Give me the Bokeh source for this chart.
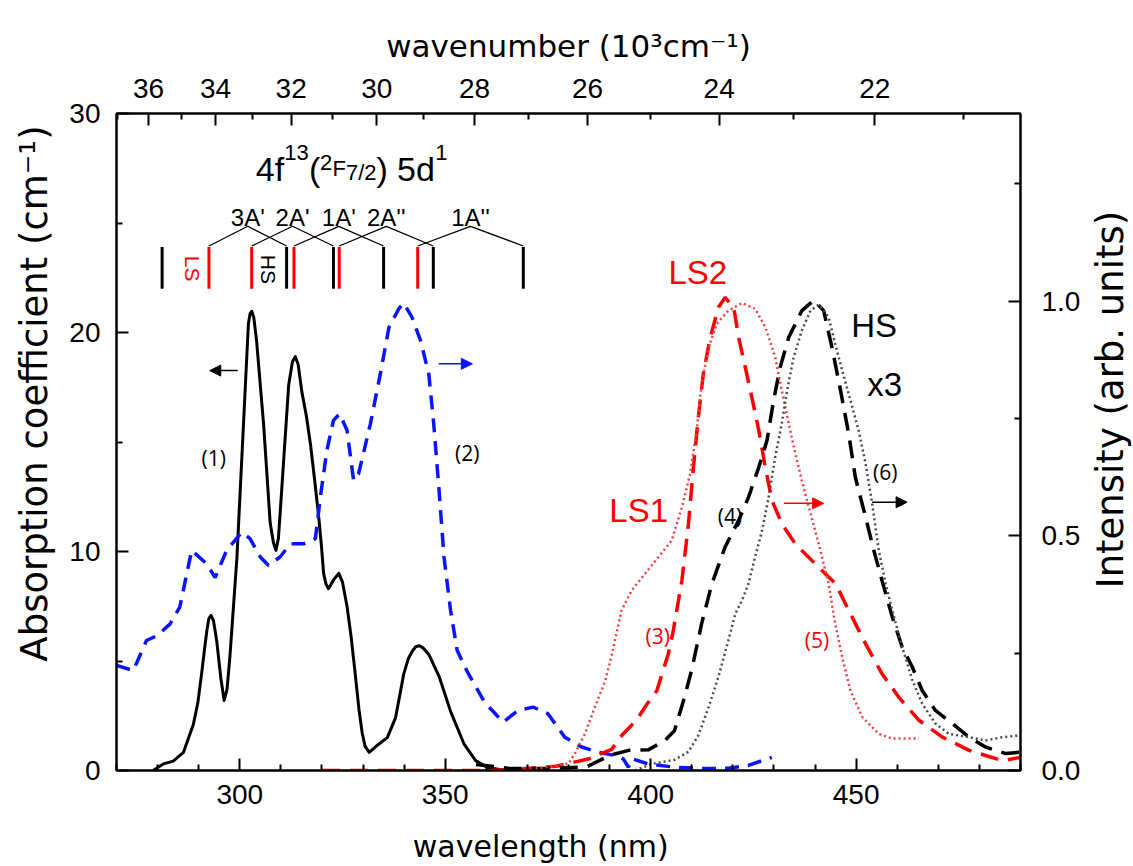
import math
from bokeh.plotting import figure
from bokeh.layouts import row, column
from bokeh.models import (Range1d, LinearAxis, FixedTicker, CustomJSTickFormatter,
                          PrintfTickFormatter, Label, Arrow, NormalHead)
from bokeh.embed import file_html
from bokeh.resources import INLINE

# ---------------- data ----------------
# (1) absorption coefficient (left axis, cm^-1)
abs_wl = [278.9, 281.4, 283.8, 286.3, 288.7, 289.8, 290.7, 291.4, 292.0, 292.5, 293.0, 293.6, 294.4,
          295.4, 296.2, 296.9, 297.6, 299.3, 300.9, 302.1, 302.5, 302.9, 303.4, 304.1, 305.8, 307.4,
          308.2, 308.8, 309.4, 310.2, 311.9, 312.8, 313.5, 314.2, 315.1, 316.2, 317.2, 318.2, 319.2,
          319.9, 320.4, 321.0, 321.6, 322.8, 324.1, 325.0, 326.1, 327.1, 328.1, 329.0, 329.8, 330.5,
          331.5, 333.8, 335.9, 337.9, 339.9, 341.0, 342.0, 342.8, 343.7, 344.6, 346.0, 348.5, 351.3,
          354.6, 357.4, 360.2, 363.5, 367.6]
abs_val = [0.0, 0.3, 0.43, 0.83, 2.1, 3.1, 4.4, 5.5, 6.4, 6.95, 7.08, 6.85, 5.9,
           4.2, 3.2, 3.7, 5.2, 9.7, 15.8, 20.4, 20.85, 20.97, 20.7, 19.6, 15.8, 11.3,
           10.4, 10.05, 10.6, 12.8, 17.6, 18.65, 18.9, 18.55, 17.3, 16.2, 14.9, 13.3, 11.6,
           10.2, 9.0, 8.5, 8.3, 8.7, 9.0, 8.6, 7.5, 6.1, 4.4, 2.8, 1.7, 1.1,
           0.83, 1.2, 1.5, 2.4, 4.4, 5.1, 5.45, 5.65, 5.7, 5.6, 5.3, 4.3, 2.7,
           1.2, 0.45, 0.15, 0.03, 0.0]

# (2) blue dashed emission (right axis)
pl_wl = [270.0, 274.1, 277.3, 279.8, 283.0, 285.4, 288.3, 292.0, 294.0, 296.8, 300.5, 302.5, 305.0,
         307.0, 309.8, 312.3, 315.5, 318.4, 319.6, 321.2, 322.8, 324.3, 326.1, 327.7, 328.9, 331.8,
         334.2, 336.3, 338.7, 339.9, 341.9, 344.0, 346.0, 347.2, 348.5, 349.7, 351.3, 352.9, 355.4,
         359.6, 364.1, 367.7, 371.4, 375.0, 379.1, 383.2, 387.2, 391.3, 393.3, 394.6, 395.4, 399.4,
         405.9, 413.2, 418.9, 423.8, 429.5]
pl_val = [0.224, 0.213, 0.277, 0.287, 0.312, 0.348, 0.469, 0.44, 0.411, 0.469, 0.508, 0.494, 0.455,
          0.437, 0.455, 0.483, 0.483, 0.494, 0.582, 0.682, 0.746, 0.76, 0.725, 0.618, 0.632, 0.739,
          0.845, 0.944, 0.984, 0.996, 0.966, 0.916, 0.845, 0.739, 0.597, 0.455, 0.341, 0.256, 0.21,
          0.145, 0.103, 0.128, 0.135, 0.121, 0.071, 0.05, 0.039, 0.032, 0.025, 0.007, 0.025, 0.014,
          0.007, 0.004, 0.005, 0.011, 0.028]

# (3) LS2 red dashed (right axis)
ls2_wl = [320.0, 335.0, 350.0, 361.0, 369.0, 377.0, 385.0, 390.5, 393.0, 396.5, 399.0, 401.5, 404.3,
          405.5, 407.6, 409.2, 410.4, 411.6, 412.8, 414.5, 416.5, 418.1, 420.2, 421.4, 423.0, 424.6,
          426.3, 427.9, 429.5, 431.9, 435.2, 440.1, 445.0, 448.2, 452.3, 456.3, 460.4, 465.3, 471.0,
          477.5, 481.5, 485.6, 490.0]
ls2_val = [0.0, 0.0, 0.0, 0.0, 0.004, 0.009, 0.025, 0.045, 0.075, 0.107, 0.14, 0.17, 0.249,
           0.298, 0.405, 0.526, 0.646, 0.753, 0.845, 0.923, 0.987, 1.008, 0.987, 0.923, 0.86, 0.796,
           0.725, 0.646, 0.576, 0.526, 0.483, 0.44, 0.398, 0.341, 0.27, 0.206, 0.156, 0.107, 0.071,
           0.043, 0.032, 0.021, 0.028]

# (5) LS1 red dotted (right axis)
ls1_wl = [372.0, 379.9, 381.5, 384.0, 386.4, 388.9, 390.5, 392.9, 395.4, 398.6, 401.9, 405.1, 407.6,
          409.6, 411.2, 412.4, 414.1, 416.1, 418.9, 422.2, 425.4, 427.9, 430.3, 431.9, 433.6, 435.2,
          436.8, 438.5, 440.9, 443.3, 444.9, 446.6, 448.6, 451.5, 455.5, 458.8, 465.3]
ls1_val = [0.004, 0.014, 0.035, 0.078, 0.135, 0.19, 0.245, 0.341, 0.384, 0.419, 0.455, 0.49, 0.561,
           0.632, 0.724, 0.824, 0.902, 0.952, 0.98, 0.996, 0.984, 0.945, 0.881, 0.81, 0.739, 0.675,
           0.618, 0.561, 0.483, 0.398, 0.313, 0.242, 0.17, 0.114, 0.078, 0.068, 0.068]

# (4) HS black dashed (right axis)
hs4_wl = [357.5, 366.0, 374.0, 384.5, 390.0, 394.6, 399.4, 403.5, 405.8, 408.0, 410.0, 412.4, 414.9,
          418.1, 421.4, 423.8, 426.3, 428.3, 429.9, 431.5, 433.6, 436.8, 439.7, 442.1, 444.1, 446.2,
          448.2, 449.8, 452.3, 454.3, 456.3, 458.8, 461.2, 463.7, 466.1, 469.3, 473.4, 477.5, 481.5,
          486.4, 490.0]
hs4_val = [0.013, 0.004, 0.004, 0.008, 0.032, 0.043, 0.044, 0.064, 0.085, 0.149, 0.215, 0.313, 0.398,
           0.476, 0.533, 0.582, 0.646, 0.703, 0.788, 0.859, 0.923, 0.98, 1.002, 0.98, 0.902, 0.81,
           0.717, 0.625, 0.54, 0.469, 0.405, 0.327, 0.263, 0.22, 0.17, 0.128, 0.1, 0.071, 0.05,
           0.036, 0.039]

# (6) HS grey dotted (right axis)
hs6_wl = [396.2, 400.2, 405.9, 409.2, 411.6, 414.1, 416.5, 418.9, 420.6, 422.2, 423.8, 425.4, 427.1,
          428.7, 430.3, 431.9, 433.2, 434.8, 436.8, 438.9, 440.9, 443.3, 444.9, 446.6, 448.6, 450.6,
          452.3, 453.9, 455.5, 457.2, 458.8, 461.2, 463.7, 466.1, 469.3, 472.6, 477.5, 481.5, 485.6,
          490.0]
hs6_val = [0.0, 0.014, 0.023, 0.04, 0.075, 0.135, 0.2, 0.277, 0.334, 0.362, 0.398, 0.455, 0.511,
           0.582, 0.668, 0.739, 0.81, 0.881, 0.938, 0.98, 0.993, 0.966, 0.909, 0.853, 0.789, 0.725,
           0.654, 0.569, 0.469, 0.398, 0.341, 0.263, 0.192, 0.142, 0.1, 0.078, 0.071, 0.064, 0.071,
           0.075]

# energy levels of the 4f13 5d1 states (nm)
ls_levels = [292.5, 302.9, 313.2, 324.2, 343.3]
hs_levels = [281.1, 311.4, 322.8, 335.0, 347.1, 369.0]
level_names = ["3A'", "2A'", "1A'", "2A''", "1A''"]

# axis ticks
wl_major = [300, 350, 400, 450]
wl_minor = [270, 280, 290, 310, 320, 330, 340, 360, 370, 380, 390, 410, 420, 430, 440, 460, 470, 480, 490]
wn_major = [36, 34, 32, 30, 28, 26, 24, 22]
wn_minor = [37, 35, 33, 31, 29, 27, 25, 23, 21]
abs_major = [0, 10, 20, 30]
abs_minor = [5, 15, 25]
int_major = [0.0, 0.5, 1.0]
int_minor = [0.25, 0.75, 1.25]

AX_FONT = "Liberation Sans"
TITLE_FONT = "DejaVu Sans"

# layout geometry (page pixels)
W, H = 1133, 866
LEFT_W, RIGHT_W, BOTTOM_H = 60, 46, 40
MAIN_W, MAIN_H = W - LEFT_W - RIGHT_W, H - BOTTOM_H


def blank(w, h):
    f = figure(width=w, height=h, x_range=Range1d(0, w), y_range=Range1d(0, h),
               output_backend="svg", toolbar_location=None, x_axis_location=None,
               y_axis_location=None, min_border=0)
    f.grid.visible = False
    f.outline_line_color = None
    f.background_fill_color = "white"
    f.border_fill_color = "white"
    return f


# ---------------- main figure ----------------
p = figure(width=MAIN_W, height=MAIN_H, x_range=Range1d(270, 490), y_range=Range1d(0, 30),
           output_backend="svg", toolbar_location=None,
           min_border_left=116 - LEFT_W, min_border_right=W - RIGHT_W - 1020,
           min_border_top=113, min_border_bottom=MAIN_H - 770)
p.extra_y_ranges = {"int": Range1d(0, 1.4)}
p.grid.visible = False
p.outline_line_color = "black"
p.outline_line_width = 2
p.background_fill_color = "white"
p.border_fill_color = "white"


def style(ax, label, label_standoff, tick_standoff, label_size="31px"):
    ax.axis_label = label
    ax.axis_line_width = 2
    ax.major_tick_line_width = 2
    ax.minor_tick_line_width = 2
    ax.major_tick_in = 12
    ax.major_tick_out = 0
    ax.minor_tick_in = 6
    ax.minor_tick_out = 0
    ax.major_label_text_font = AX_FONT
    ax.major_label_text_font_size = "28px"
    ax.major_label_text_color = "black"
    ax.axis_label_text_font = TITLE_FONT
    ax.axis_label_text_font_size = label_size
    ax.axis_label_text_font_style = "normal"
    ax.axis_label_text_color = "black"
    ax.axis_label_standoff = label_standoff
    ax.major_label_standoff = tick_standoff


def px2nm(px):
    return 270 + (px - 116) / 4.1


def py2v(py):
    return (770 - py) / 21.9


xb = p.xaxis[0]
xb.ticker = FixedTicker(ticks=wl_major, minor_ticks=wl_minor)
style(xb, "", 8, 14)

yl = p.yaxis[0]
yl.ticker = FixedTicker(ticks=abs_major, minor_ticks=abs_minor)
yl.formatter = PrintfTickFormatter(format="%d")
style(yl, "", 17, 16)

yr = LinearAxis(y_range_name="int")
yr.ticker = FixedTicker(ticks=int_major, minor_ticks=int_minor)
yr.formatter = PrintfTickFormatter(format="%.1f")
style(yr, "", 8, 21)
p.add_layout(yr, "right")

xt = LinearAxis()
xt.ticker = FixedTicker(ticks=[1e4 / k for k in wn_major], minor_ticks=[1e4 / k for k in wn_minor])
xt.formatter = CustomJSTickFormatter(code="return (10000/tick).toFixed(0);")
style(xt, "wavenumber (10\u00b3cm\u207b\u00b9)", 12, 16, "31px")
p.add_layout(xt, "above")

# ---------------- curves ----------------
p.line(abs_wl, abs_val, line_color="black", line_width=3, line_join="round")
p.line(pl_wl, pl_val, y_range_name="int", line_color="#0a14ff", line_width=3.5, line_dash="14 9")
p.line(ls2_wl, ls2_val, y_range_name="int", line_color="#ff0000", line_width=3.5, line_dash="18 10")
p.line(hs4_wl, hs4_val, y_range_name="int", line_color="black", line_width=3.5, line_dash="18 10")
p.line(ls1_wl, ls1_val, y_range_name="int", line_color="#ee4040", line_width=2.5, line_dash="2 3")
p.line(hs6_wl, hs6_val, y_range_name="int", line_color="#4a4a4a", line_width=2.5, line_dash="2 3")

# ---------------- level diagram ----------------
LV_BOT, LV_TOP, BR_END, BR_APEX, BR_TXT = 22.0, 23.9, 23.95, 24.85, 25.25
p.segment(x0=ls_levels, y0=[LV_BOT] * len(ls_levels), x1=ls_levels, y1=[LV_TOP] * len(ls_levels),
          line_color="#ff0000", line_width=3)
p.segment(x0=hs_levels, y0=[LV_BOT] * len(hs_levels), x1=hs_levels, y1=[LV_TOP] * len(hs_levels),
          line_color="black", line_width=3)
bx, by = [], []
for i, name in enumerate(level_names):
    a, b = ls_levels[i], hs_levels[i + 1]
    m = (a + b) / 2
    bx.append([a, m, b])
    by.append([BR_END, BR_APEX, BR_END])
    p.add_layout(Label(x=m, y=BR_TXT, text=name, text_align="center", text_baseline="alphabetic",
                       text_font=AX_FONT, text_font_size="24px", text_color="black"))
p.multi_line(bx, by, line_color="black", line_width=1.3)

p.add_layout(Label(x=288.5, y=22.92, text="LS", angle=-math.pi / 2, text_align="center",
                   text_baseline="middle", text_font=AX_FONT, text_font_size="21px", text_color="#ff0000"))
p.add_layout(Label(x=307.1, y=22.88, text="HS", angle=-math.pi / 2, text_align="center",
                   text_baseline="middle", text_font=AX_FONT, text_font_size="21px", text_color="black"))

# title 4f13(2F7/2) 5d1 composed of pieces
pieces = [("4f", 255, 168, "34px"), ("13", 283.5, 152, "22px"), ("(", 308, 168, "34px"),
          ("2", 319, 162, "22px"), ("F", 331.5, 168, "22px"), ("7/2", 345, 172, "22px"),
          (")", 375.5, 168, "34px"), ("5d", 396, 168, "34px"), ("1", 434, 152, "22px")]
for t, px, py, fs in pieces:
    p.add_layout(Label(x=px2nm(px), y=py2v(py), text=t, text_align="left", text_baseline="alphabetic",
                       text_font=AX_FONT, text_font_size=fs, text_color="black"))

# ---------------- curve labels ----------------
small_labels = [("(1)", 293.66, 14.25, "black"), ("(2)", 355.37, 14.52, "black"),
                ("(3)", 401.7, 6.16, "#ff0000"), ("(4)", 419.3, 11.64, "black"),
                ("(5)", 440.49, 5.94, "#ff0000"), ("(6)", 457.07, 13.61, "black")]
for t, x, y, c in small_labels:
    p.add_layout(Label(x=x, y=y, text=t, text_align="center", text_baseline="middle",
                       text_font="Open Sans", text_font_size="21px", text_color=c))

big_labels = [("LS1", 397.07, 11.89, "#ff0000"), ("LS2", 411.46, 22.72, "#ff0000"),
              ("HS", 454.39, 20.32, "black"), ("x3", 456.95, 17.63, "black")]
for t, x, y, c in big_labels:
    p.add_layout(Label(x=x, y=y, text=t, text_align="center", text_baseline="middle",
                       text_font=AX_FONT, text_font_size="33px", text_color=c))

arrows = [(299.5, 292.7, 18.26, "black"), (348.4, 356.6, 18.57, "#0a14ff"),
          (432.4, 442.1, 12.2, "#ff0000"), (453.9, 462.4, 12.25, "black")]
for x0, x1, y, c in arrows:
    p.add_layout(Arrow(x_start=x0, y_start=y, x_end=x1, y_end=y, line_color=c, line_width=1.5,
                       end=NormalHead(size=11, fill_color=c, line_color=c)))

# ---------------- axis titles in side panels ----------------
p_left = blank(LEFT_W, H)
p_left.add_layout(Label(x=34, y=H - 393, text="Absorption coefficient (cm\u207b\u00b9)", angle=math.pi / 2,
                        text_align="center", text_baseline="middle", text_font=TITLE_FONT,
                        text_font_size="37px", text_color="black"))
p_right = blank(RIGHT_W, H)
p_right.add_layout(Label(x=1110 - (W - RIGHT_W), y=H - 399, text="Intensity (arb. units)",
                         angle=math.pi / 2, text_align="center", text_baseline="middle",
                         text_font=TITLE_FONT, text_font_size="37px", text_color="black"))
p_bottom = blank(MAIN_W, BOTTOM_H)
p_bottom.add_layout(Label(x=542 - LEFT_W, y=BOTTOM_H - (846 - MAIN_H), text="wavelength (nm)",
                          text_align="center", text_baseline="middle", text_font=TITLE_FONT,
                          text_font_size="30px", text_color="black"))

layout = row(p_left, column(p, p_bottom, spacing=0), p_right, spacing=0)
open("out.html", "w").write(file_html(layout, INLINE))
